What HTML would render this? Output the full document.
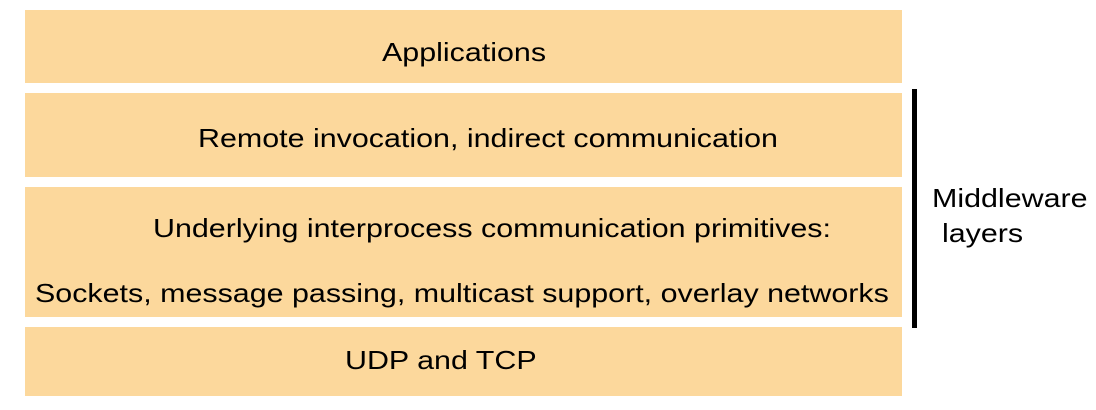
<!DOCTYPE html>
<html><head><style>
body{margin:0;width:1096px;height:410px;background:#fff;position:relative;font-family:"Liberation Sans",Arial,sans-serif;color:#000;overflow:hidden}
.b{position:absolute;left:25px;width:877px;background:#fcd89c}
.t{position:absolute;font-size:26px;white-space:nowrap;line-height:1;transform:scaleX(1.17);transform-origin:0 0}
</style></head><body>
<div class="b" style="top:10px;height:73px"></div>
<div class="b" style="top:93px;height:84px"></div>
<div class="b" style="top:187px;height:130px"></div>
<div class="b" style="top:327px;height:69px"></div>
<div style="position:absolute;left:912px;top:89px;width:5px;height:239px;background:#000"></div>
<div class="t" style="left:382px;top:39px">Applications</div>
<div class="t" style="left:198px;top:125px">Remote invocation, indirect communication</div>
<div class="t" style="left:153px;top:215px">Underlying interprocess communication primitives:</div>
<div class="t" style="left:35px;top:280px">Sockets, message passing, multicast support, overlay networks</div>
<div class="t" style="left:345px;top:347px">UDP and TCP</div>
<div class="t" style="left:932px;top:185px">Middleware</div>
<div class="t" style="left:942px;top:220px">layers</div>
</body></html>
